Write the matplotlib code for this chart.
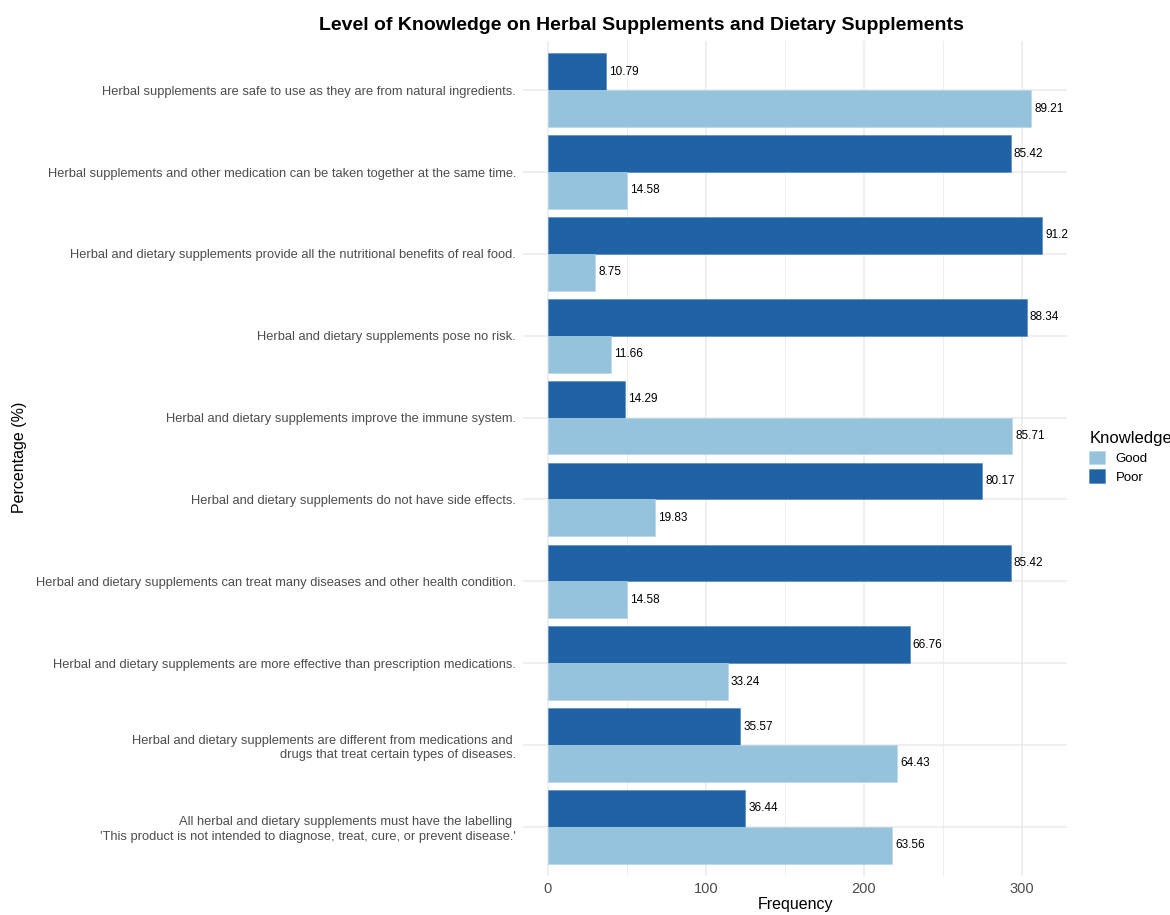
import matplotlib.pyplot as plt
import numpy as np

# Data (n = 343 respondents)
statements = [
    "Herbal supplements are safe to use as they are from natural ingredients.",
    "Herbal supplements and other medication can be taken together at the same time.",
    "Herbal and dietary supplements provide all the nutritional benefits of real food.",
    "Herbal and dietary supplements pose no risk.",
    "Herbal and dietary supplements improve the immune system.",
    "Herbal and dietary supplements do not have side effects.",
    "Herbal and dietary supplements can treat many diseases and other health condition.",
    "Herbal and dietary supplements are more effective than prescription medications.",
    "Herbal and dietary supplements are different from medications and \ndrugs that treat certain types of diseases.",
    "All herbal and dietary supplements must have the labelling \n'This product is not intended to diagnose, treat, cure, or prevent disease.'",
]
poor_freq = [37, 293, 313, 303, 49, 275, 293, 229, 122, 125]
good_freq = [306, 50, 30, 40, 294, 68, 50, 114, 221, 218]
poor_pct = ["10.79", "85.42", "91.2", "88.34", "14.29", "80.17", "85.42", "66.76", "35.57", "36.44"]
good_pct = ["89.21", "14.58", "8.75", "11.66", "85.71", "19.83", "14.58", "33.24", "64.43", "63.56"]

good_color = "#96c3dc"
poor_color = "#1f62a5"
grid_color = "#ebebeb"
text_color = "#4d4d4d"

plt.rcParams['font.family'] = ['Liberation Sans', 'DejaVu Sans']

fig = plt.figure(figsize=(11.7, 9.15), dpi=100)
ax = fig.add_axes([0.447, 0.0426, 0.465, 0.9125])

n = len(statements)
y = np.arange(n)[::-1].astype(float)  # first statement at top
h = 0.45

for spine in ax.spines.values():
    spine.set_visible(False)

# grid
for xv in [50, 150, 250]:
    ax.axvline(xv, color=grid_color, linewidth=0.6, zorder=0)
for xv in [0, 100, 200, 300]:
    ax.axvline(xv, color=grid_color, linewidth=1.1, zorder=0)
for yv in y:
    ax.axhline(yv, color=grid_color, linewidth=1.1, zorder=0)

ax.barh(y + h / 2, poor_freq, height=h, color=poor_color, edgecolor="#4f86bd",
        linewidth=0.4, label="Poor", zorder=2)
ax.barh(y - h / 2, good_freq, height=h, color=good_color, edgecolor="#b5d6e8",
        linewidth=0.4, label="Good", zorder=2)

for yi, v, lab in zip(y, poor_freq, poor_pct):
    ax.text(v + 2, yi + h / 2, lab, va='center', ha='left', fontsize=8.5, color='black')
for yi, v, lab in zip(y, good_freq, good_pct):
    ax.text(v + 2, yi - h / 2, lab, va='center', ha='left', fontsize=8.5, color='black')

ax.set_xlim(-15.6, 328.6)
ax.set_ylim(-0.6, n - 1 + 0.6)
ax.set_xticks([0, 100, 200, 300])
ax.set_yticks(y)
ax.set_yticklabels(statements, fontsize=9.3, color=text_color, linespacing=1.3)
ax.tick_params(axis='both', length=0, pad=5)
ax.tick_params(axis='x', labelsize=10.5, colors=text_color, pad=4)

ax.set_xlabel("Frequency", fontsize=11.5, labelpad=1)
fig.text(0.017, 0.5, "Percentage (%)", rotation=90, va='center', ha='center', fontsize=11.5)
fig.text(0.548, 0.972, "Level of Knowledge on Herbal Supplements and Dietary Supplements",
         ha='center', va='center', fontsize=14, fontweight='bold')

# legend (Good first, like the reference)
handles, labels = ax.get_legend_handles_labels()
order = [1, 0]
leg = fig.legend([handles[i] for i in order], [labels[i] for i in order],
                 title="Knowledge", loc='upper left', bbox_to_anchor=(0.921, 0.542),
                 frameon=False, fontsize=9.5, title_fontsize=12,
                 handlelength=1.2, handleheight=1.2, handletextpad=0.8,
                 labelspacing=0.35, alignment='left')

plt.savefig("out.png", dpi=100)
